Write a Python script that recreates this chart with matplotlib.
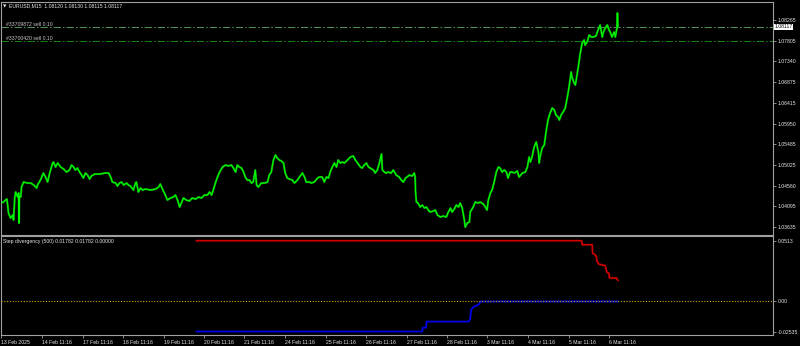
import matplotlib
matplotlib.use('Agg')
import matplotlib.pyplot as plt
from matplotlib.transforms import blended_transform_factory

plt.rcParams['font.family'] = ['Liberation Sans', 'DejaVu Sans']

# ---------------- data ----------------
symbol = "EURUSD,M15"
last_ohlc = [1.08120, 1.08130, 1.08115, 1.08117]

# M15 bar index (0 ~ 13 Feb 11:16) and price
price_bars = [-5, 2, 7, 10, 12, 14, 19, 24, 26, 29,
              31, 36, 38, 39, 40, 43, 45, 50, 59, 67,
              74, 81, 83, 90, 97, 102, 107, 112, 119, 121,
              126, 131, 138, 145, 152, 159, 164, 169, 173, 178,
              183, 188, 192, 197, 202, 207, 211, 219, 226, 233,
              242, 252, 257, 261, 269, 273, 278, 283, 288, 295,
              299, 304, 311, 316, 318, 323, 328, 333, 340, 352,
              364, 371, 375, 380, 387, 392, 399, 406, 411, 416,
              421, 425, 430, 437, 444, 451, 459, 466, 473, 480,
              487, 492, 497, 501, 506, 511, 516, 523, 530, 537,
              544, 549, 554, 558, 563, 568, 573, 577, 582, 587,
              592, 596, 601, 604, 608, 615, 623, 630, 634, 639,
              644, 649, 653, 658, 663, 668, 672, 677, 682, 689,
              694, 701, 706, 713, 718, 722, 730, 734, 741, 749,
              753, 760, 765, 770, 775, 779, 784, 789, 794, 798,
              803, 808, 813, 820, 827, 834, 839, 844, 851, 855,
              860, 865, 870, 874, 882, 886, 891, 896, 901, 903,
              908, 912, 917, 924, 929, 936, 943, 948, 953, 958,
              962, 967, 974, 979, 981, 982, 984, 988, 993, 998,
              1003, 1008, 1012, 1017, 1024, 1029, 1034, 1041, 1048, 1055,
              1060, 1065, 1069, 1074, 1079, 1084, 1088, 1093, 1095, 1098,
              1100, 1105, 1110, 1112, 1119, 1124, 1131, 1136, 1143, 1148,
              1152, 1155, 1160, 1164, 1169, 1174, 1179, 1183, 1188, 1193,
              1198, 1202, 1207, 1212, 1217, 1224, 1228, 1236, 1243, 1248,
              1252, 1255, 1259, 1264, 1269, 1274, 1276, 1278, 1283, 1288,
              1293, 1297, 1302, 1307, 1312, 1316, 1321, 1324, 1328, 1333,
              1338, 1343, 1347, 1352, 1354, 1359, 1362, 1366, 1369, 1373,
              1378, 1383, 1385, 1390, 1395, 1400, 1404, 1411, 1416, 1421,
              1426, 1428, 1433, 1438, 1442, 1445, 1449, 1454, 1457, 1461,
              1462, 1463]
prices = [1.04171, 1.04193, 1.04238, 1.04260, 1.04126, 1.03947, 1.03835, 1.03902, 1.03791, 1.04305,
          1.04417, 1.04305, 1.04395, 1.03724, 1.04327, 1.04305, 1.04529, 1.04641, 1.04618, 1.04618,
          1.04574, 1.04506, 1.04574, 1.04685, 1.04842, 1.04753, 1.04641, 1.04842, 1.05066, 1.05088,
          1.04976, 1.05066, 1.04976, 1.04932, 1.04864, 1.04909, 1.05021, 1.04976, 1.04909, 1.04954,
          1.04864, 1.04797, 1.04730, 1.04842, 1.04797, 1.04708, 1.04775, 1.04820, 1.04820, 1.04820,
          1.04842, 1.04842, 1.04753, 1.04641, 1.04618, 1.04551, 1.04618, 1.04641, 1.04574, 1.04618,
          1.04574, 1.04551, 1.04462, 1.04618, 1.04641, 1.04417, 1.04506, 1.04462, 1.04484, 1.04462,
          1.04484, 1.04529, 1.04596, 1.04484, 1.04350, 1.04238, 1.04283, 1.04305, 1.04350, 1.04238,
          1.04081, 1.04171, 1.04283, 1.04238, 1.04216, 1.04283, 1.04260, 1.04305, 1.04283, 1.04350,
          1.04350, 1.04417, 1.04350, 1.04462, 1.04618, 1.04753, 1.04864, 1.04976, 1.05021, 1.04999,
          1.05021, 1.04954, 1.04864, 1.05021, 1.04976, 1.04954, 1.04864, 1.04753, 1.04685, 1.04685,
          1.04618, 1.04641, 1.04909, 1.04574, 1.04529, 1.04618, 1.04618, 1.04641, 1.04797, 1.04864,
          1.05133, 1.05245, 1.05178, 1.05133, 1.05110, 1.05066, 1.04842, 1.04730, 1.04708, 1.04685,
          1.04618, 1.04685, 1.04753, 1.04842, 1.04753, 1.04641, 1.04641, 1.04618, 1.04641, 1.04730,
          1.04753, 1.04753, 1.04641, 1.04753, 1.04730, 1.04864, 1.04976, 1.05066, 1.04976, 1.05133,
          1.05066, 1.05088, 1.05066, 1.05133, 1.05200, 1.05222, 1.05133, 1.05066, 1.04976, 1.04954,
          1.05021, 1.05066, 1.04976, 1.04954, 1.04909, 1.04842, 1.04909, 1.05066, 1.05267, 1.04909,
          1.04864, 1.04842, 1.04864, 1.04842, 1.04909, 1.04797, 1.04753, 1.04685, 1.04641, 1.04730,
          1.04753, 1.04797, 1.04775, 1.04842, 1.04753, 1.04417, 1.04193, 1.04171, 1.04081, 1.04126,
          1.04059, 1.04081, 1.04014, 1.03970, 1.03992, 1.04014, 1.03902, 1.03858, 1.03880, 1.03858,
          1.03970, 1.04059, 1.03970, 1.04037, 1.04126, 1.04081, 1.04171, 1.04059, 1.03947, 1.03791,
          1.03634, 1.03724, 1.03746, 1.03970, 1.04081, 1.04193, 1.04171, 1.04193, 1.04149, 1.04081,
          1.04014, 1.04238, 1.04395, 1.04462, 1.04641, 1.04864, 1.04976, 1.04954, 1.04864, 1.04909,
          1.04864, 1.04730, 1.04864, 1.04864, 1.04842, 1.04887, 1.04753, 1.04842, 1.04864, 1.04976,
          1.05200, 1.05088, 1.05200, 1.05424, 1.05536, 1.05312, 1.05066, 1.05200, 1.05401, 1.05468,
          1.05804, 1.06028, 1.06184, 1.06296, 1.06251, 1.06139, 1.06095, 1.06028, 1.06139, 1.06207,
          1.06296, 1.06542, 1.06766, 1.07101, 1.06990, 1.06855, 1.06811, 1.07034, 1.07213, 1.07482,
          1.07750, 1.07817, 1.07705, 1.07772, 1.07929, 1.07884, 1.07884, 1.07907, 1.08041, 1.08153,
          1.07884, 1.07974, 1.08086, 1.08153, 1.08041, 1.07996, 1.07884, 1.07996, 1.07884, 1.08086,
          1.08421, 1.08117]

price_ticks = [1.08265, 1.07805, 1.07340, 1.06875, 1.06415, 1.05950,
               1.05485, 1.05025, 1.04560, 1.04095, 1.03635]

order_labels = ["#33709872 sell 0.10", "#33700420 sell 0.10"]
order_prices = [1.08112, 1.07788]

date_labels = ["13 Feb 2025", "14 Feb 11:16", "17 Feb 11:16", "18 Feb 11:16",
               "19 Feb 11:16", "20 Feb 11:16", "21 Feb 11:16", "24 Feb 11:16",
               "25 Feb 11:16", "26 Feb 11:16", "27 Feb 11:16", "28 Feb 11:16",
               "3 Mar 11:16", "4 Mar 11:16", "5 Mar 11:16", "6 Mar 11:16"]
date_bars = [-3, 94, 190, 286, 383, 479, 575, 672, 768, 864, 961, 1057,
             1153, 1250, 1346, 1442]

# Step divergency indicator
ind_name = "Step divergency (500)"
ind_values = [0.01782, 0.01782, 0.00000]
red_bars = [461, 1377, 1378, 1402, 1403, 1409, 1412, 1413, 1417, 1423,
            1433, 1435, 1437, 1442, 1443, 1460, 1463]
red_vals = [0.0513, 0.0513, 0.0479, 0.0479, 0.0407, 0.0395, 0.0378, 0.0344, 0.0317, 0.0311,
            0.0302, 0.0274, 0.0246, 0.0238, 0.0198, 0.0198, 0.01782]
blue_bars = [461, 998, 999, 1007, 1008, 1108, 1112, 1114, 1118, 1124,
             1131, 1134, 1137, 1464]
blue_vals = [-0.02535, -0.02535, -0.0221, -0.0221, -0.0170, -0.0170, -0.0148, -0.0072, -0.0052, -0.0038,
             -0.0030, -0.0015, 0.0, 0.0]
ind_ticks = [0.0513, 0.0, -0.02535]
ind_tick_labels = ["0.0513", "0.00", "-0.02535"]

# ---------------- figure ----------------
W, H = 800, 346
fig = plt.figure(figsize=(W / 100, H / 100), dpi=100, facecolor='black')


def frac(x0, y0, x1, y1):
    return [x0 / W, 1 - y1 / H, (x1 - x0) / W, (y1 - y0) / H]


ax1 = fig.add_axes(frac(0.5, 2, 773, 235))
ax2 = fig.add_axes(frac(0.5, 236, 773, 335))

FS = 3.7
GRID = '#a0a0a0'
TXT = '#e6e6e6'

for ax in (ax1, ax2):
    ax.set_facecolor('black')
    for sp in ax.spines.values():
        sp.set_color(GRID)
        sp.set_linewidth(0.8)
    ax.set_xlim(-5, 1832)
    ax.yaxis.tick_right()
    ax.tick_params(axis='y', colors=GRID, labelcolor=TXT, labelsize=FS,
                   length=2.5, width=0.6, pad=1.2)

# main price panel
ax1.plot(price_bars, prices, color='#009a00', lw=1.5, zorder=2)
ax1.plot(price_bars, prices, color='#00ff00', lw=0.75, zorder=3)
ax1.set_ylim(1.03456, 1.08668)
ax1.set_xticks([])
ax1.set_yticks(price_ticks)
ax1.set_yticklabels([f"{v:.5f}" for v in price_ticks])

order_colors = ['#4f8f4f', '#178017']
tr1 = blended_transform_factory(ax1.transAxes, ax1.transData)
for lab, p, c in zip(order_labels, order_prices, order_colors):
    ax1.axhline(p, color=c, lw=0.75, ls=(0, (7, 2, 1.5, 2)), zorder=1)
    ax1.text(6 / 773, p, lab, transform=tr1, fontsize=FS, color='#c8c8c8',
             va='bottom', ha='left')

ax1.text(1.0 + 1.5 / 773, last_ohlc[3], f"{last_ohlc[3]:.5f}", transform=tr1,
         fontsize=FS, color='black', va='center', ha='left', clip_on=False,
         bbox=dict(facecolor='white', edgecolor='none', pad=0.4), zorder=5)

fig.text(3 / W, 1 - 6 / H, "\u25BC", fontsize=3.2, color=TXT, va='center',
         ha='left', family='DejaVu Sans')
fig.text(9 / W, 1 - 6 / H,
         symbol + "  " + " ".join(f"{v:.5f}" for v in last_ohlc),
         fontsize=FS, color=TXT, va='center', ha='left')

# indicator panel
ax2.plot(red_bars, red_vals, color='#cc0000', lw=1.3, zorder=2)
ax2.plot(blue_bars, blue_vals, color='#0000e8', lw=1.3, zorder=2)
ax2.axhline(0, color='#c8a800', lw=0.8, ls=(0, (1, 1.5)), zorder=3)
ax2.set_ylim(-0.0283, 0.05527)
ax2.set_yticks(ind_ticks)
ax2.set_yticklabels(ind_tick_labels)
ax2.set_xticks(date_bars)
ax2.set_xticklabels(date_labels)
ax2.tick_params(axis='x', colors=GRID, labelcolor=TXT, labelsize=FS,
                length=2.2, width=0.6, pad=1.2)
for lab in ax2.get_xticklabels():
    lab.set_ha('left')
ax2.text(3 / 773, 0.97, ind_name + " " + " ".join(f"{v:.5f}" for v in ind_values),
         transform=ax2.transAxes, fontsize=FS, color=TXT, va='top', ha='left')

fig.savefig('out.png', dpi=100, facecolor='black')
